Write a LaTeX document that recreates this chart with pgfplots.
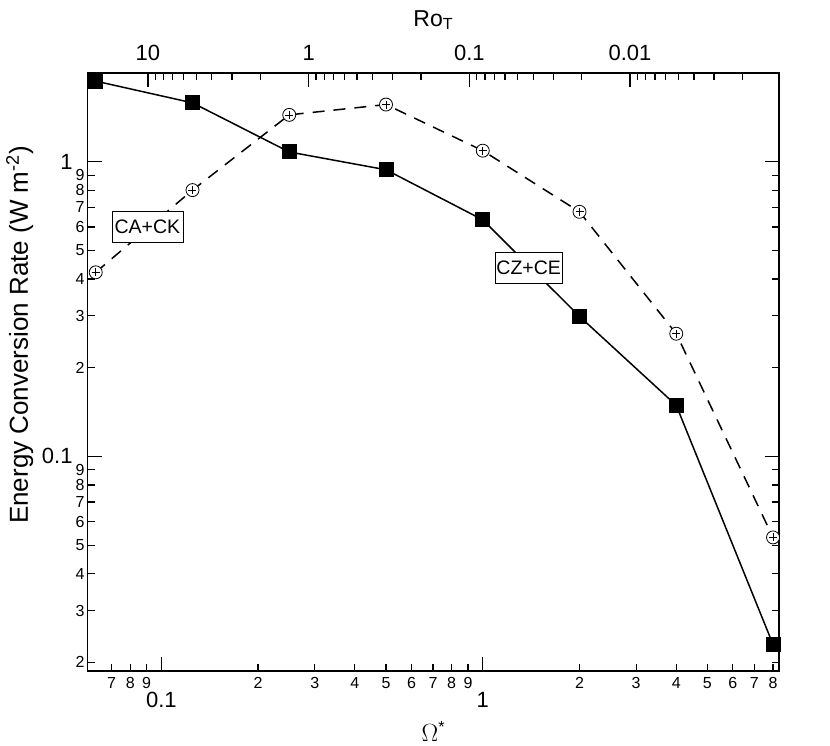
\documentclass[border=0pt]{standalone}
\usepackage{fontspec}
\setmainfont{Liberation Sans}
\newfontfamily\omegafont{Liberation Serif}
\usepackage{pgfplots}
\pgfplotsset{compat=1.18}

\pgfplotstableread{
x y
0.0625 1.877
0.125 1.584
0.25 1.079
0.5 0.939
1 0.635
2 0.2986
4 0.149
8 0.0230
}\czce

\pgfplotstableread{
x y
0.0625 0.4214
0.125 0.801
0.25 1.442
0.5 1.563
1 1.090
2 0.676
4 0.2608
8 0.0531
}\cack

\begin{document}
\begin{tikzpicture}
\path[use as bounding box] (-87.7pt,-74pt) rectangle (742.3pt,671pt);
\begin{axis}[
  at={(0,0)}, anchor=south west,
  scale only axis, width=691.3pt, height=598pt,
  xmode=log, ymode=log,
  xmin=0.059, xmax=8.35, ymin=0.0187, ymax=2,
  axis line style={line width=1.5pt},
  tick align=inside,
  xtick pos=bottom, ytick pos=both,
  xminorticks=false, yminorticks=false,
  major tick length=7pt,
  every tick/.style={black, line width=1.2pt},
  xtick={0.07,0.08,0.09,0.2,0.3,0.4,0.5,0.6,0.7,0.8,0.9,2,3,4,5,6,7,8},
  xticklabels={7,8,9,2,3,4,5,6,7,8,9,2,3,4,5,6,7,8},
  xticklabel style={font=\fontsize{16}{16}\selectfont, anchor=center, inner sep=0pt, yshift=-12pt},
  extra x ticks={0.1,1},
  extra x tick labels={0.1,1},
  extra x tick style={major tick length=14pt, xticklabel style={font=\fontsize{22}{22}\selectfont, yshift=-17pt}},
  ytick={0.02,0.03,0.04,0.05,0.06,0.07,0.08,0.09,0.2,0.3,0.4,0.5,0.6,0.7,0.8,0.9},
  yticklabels={2,3,4,5,6,7,8,9,2,3,4,5,6,7,8,9},
  yticklabel style={font=\fontsize{16}{16}\selectfont, anchor=east, inner sep=0pt, xshift=-3pt},
  extra y ticks={0.1,1},
  extra y tick labels={0.1,1},
  extra y tick style={major tick length=14pt, yticklabel style={font=\fontsize{22}{22}\selectfont, xshift=-12pt}},
  xlabel={{\omegafont\fontsize{23}{23}\selectfont $\Omega$}\textsuperscript{*}},
  xlabel style={at={(axis description cs:0.5,-0.1003)}, anchor=center, font=\fontsize{23}{23}\selectfont},
  ylabel={Energy Conversion Rate (W m\textsuperscript{-2})},
  ylabel style={at={(axis description cs:-0.0984,0.562)}, anchor=center, rotate=0, font=\fontsize{26}{26}\selectfont},
  clip=false,
]
\addplot[black, line width=1.5pt, dash pattern=on 12pt off 9pt, mark=*, mark size=6.5pt,
  mark options={solid, fill=white, draw=black, line width=0.8pt}] table[x=x,y=y] {\cack};
\addplot[only marks, mark=+, mark size=4pt, mark options={black, line width=0.7pt}] table[x=x,y=y] {\cack};
\addplot[black, line width=1.5pt, mark=square*, mark size=6.75pt, mark options={solid, fill=black}] table[x=x,y=y] {\czce};
\node[draw=black, fill=white, line width=0.8pt, minimum width=71pt, minimum height=31pt, inner sep=0pt,
  font=\fontsize{19.5}{20}\selectfont] at (axis cs:0.0905,0.602) {CA+CK};
\node[draw=black, fill=white, line width=0.8pt, minimum width=67pt, minimum height=31pt, inner sep=0pt,
  font=\fontsize{19.5}{20}\selectfont] at (axis cs:1.39,0.4365) {CZ+CE};
\end{axis}
\begin{axis}[
  at={(0,0)}, anchor=south west,
  scale only axis, width=691.3pt, height=598pt,
  xmode=log, x dir=reverse, xmin=0.001183, xmax=23.70,
  ymin=0, ymax=1, hide y axis,
  axis x line*=top,
  axis line style={line width=1.5pt},
  tick align=inside,
  xminorticks=false,
  every tick/.style={black, line width=1.2pt},
  major tick length=14pt,
  xtick={10,1,0.1,0.01}, xticklabels={10,1,0.1,0.01},
  xticklabel style={font=\fontsize{22}{22}\selectfont, anchor=center, inner sep=0pt, yshift=20pt},
  extra x ticks={9,8,7,6,5,4,3,2,0.9,0.8,0.7,0.6,0.5,0.4,0.3,0.2,0.09,0.08,0.07,0.06,0.05,0.04,0.03,0.02,0.009,0.008,0.007,0.006,0.005,0.004,0.003,0.002},
  extra x tick labels={},
  extra x tick style={major tick length=7pt},
  xlabel={Ro\textsubscript{T}},
  xlabel style={at={(axis description cs:0.5,1.0886)}, anchor=center, font=\fontsize{23}{23}\selectfont},
]
\end{axis}
\end{tikzpicture}
\end{document}
